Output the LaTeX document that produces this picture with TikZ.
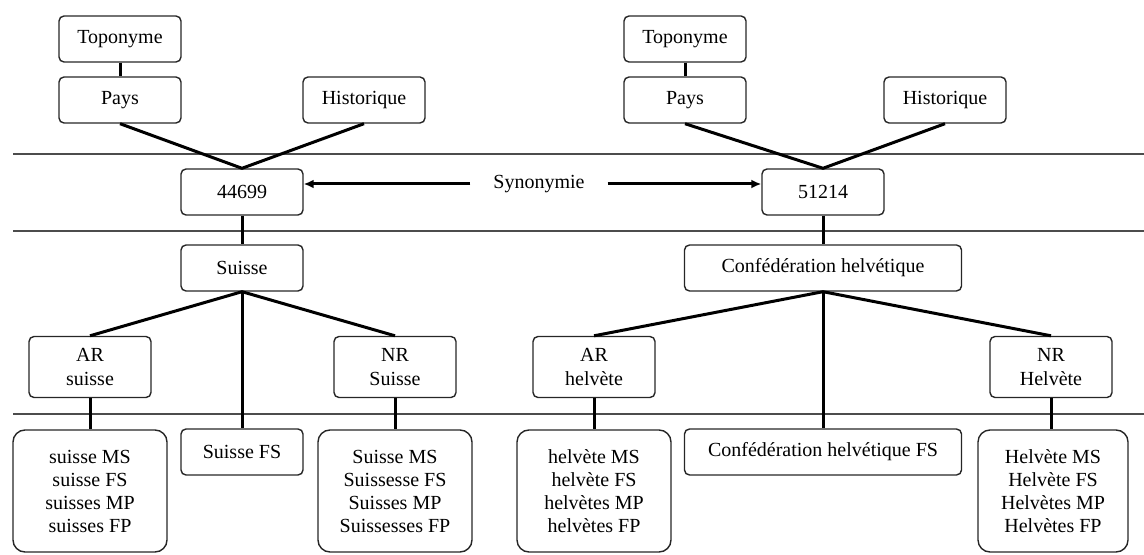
\documentclass[tikz,border=0pt]{standalone}
\usepackage{fontspec}
\setmainfont{Liberation Serif}
\usetikzlibrary{arrows.meta}

\begin{document}
\begin{tikzpicture}[x=0.5pt,y=-0.5pt]
        \tikzset{box/.style={draw=black!85,rounded corners=2.5pt,line width=0.7pt,
                minimum width=61pt,minimum height=23pt,inner sep=2pt,align=center,
                font=\fontsize{10}{12}\selectfont},
            pair/.style={box,minimum height=30.5pt},
            wide/.style={box,minimum width=138.5pt},
            forms/.style={box,minimum width=77pt,minimum height=61pt,rounded corners=6pt,
                font=\fontsize{10}{11.5}\selectfont},
            link/.style={draw,line width=1.5pt},
            sep/.style={draw=black!70,line width=0.7pt},
            syn/.style={draw,line width=1.5pt,shorten <=8pt,-{Latex[length=5pt,width=4.5pt]}}}
        \useasboundingbox (0,0) rectangle (1144,555);
        \draw[sep] (13,154) -- (1144,154);
        \draw[sep] (13,231) -- (1144,231);
        \draw[sep] (13,414) -- (1144,414);

        \node[box] (topoL) at (120,39) {Toponyme};
        \node[box] (paysL) at (120,100) {Pays};
        \node[box] (histL) at (364,100) {Historique};
        \node[box] (idL) at (242,192) {44699};
        \node[box] (suisse) at (242,268) {Suisse};
        \node[pair] (arL) at (90,367) {AR\\suisse};
        \node[pair] (nrL) at (395,367) {NR\\Suisse};
        \node[forms] (formsArL) at (90,491) {suisse MS\\suisse FS\\suisses MP\\suisses FP};
        \node[box] (suisseFS) at (242,452) {Suisse FS};
        \node[forms] (formsNrL) at (395,491) {Suisse MS\\Suissesse FS\\Suisses MP\\Suissesses FP};

        \node[box] (topoR) at (685,39) {Toponyme};
        \node[box] (paysR) at (685,100) {Pays};
        \node[box] (histR) at (945,100) {Historique};
        \node[box] (idR) at (823,192) {51214};
        \node[wide] (conf) at (823,268) {Confédération helvétique};
        \node[pair] (arR) at (594,367) {AR\\helvète};
        \node[pair] (nrR) at (1051,367) {NR\\Helvète};
        \node[forms] (formsArR) at (594,491) {helvète MS\\helvète FS\\helvètes MP\\helvètes FP};
        \node[wide] (confFS) at (823,452) {Confédération helvétique FS};
        \node[forms,minimum width=75pt] (formsNrR) at (1053,491) {Helvète MS\\Helvète FS\\Helvètes MP\\Helvètes FP};

        \node (synonymie) at (539,184) {Synonymie};

        \draw[link] (topoL) -- (paysL);
        \draw[link] (paysL.south) -- (idL.north) -- (histL.south);
        \draw[link] (idL) -- (suisse);
        \draw[link] (arL.north) -- (suisse.south) -- (nrL.north);
        \draw[link] (suisse) -- (suisseFS);
        \draw[link] (arL) -- (formsArL);
        \draw[link] (nrL) -- (formsNrL);

        \draw[link] (topoR) -- (paysR);
        \draw[link] (paysR.south) -- (idR.north) -- (histR.south);
        \draw[link] (idR) -- (conf);
        \draw[link] (arR.north) -- (conf.south) -- (nrR.north);
        \draw[link] (conf) -- (confFS);
        \draw[link] (arR) -- (formsArR);
        \draw[link] (nrR.south) -- (formsNrR.north -| nrR.south);

        \draw[syn] (synonymie.west) -- (synonymie.west -| idL.east);
        \draw[syn] (synonymie.east) -- (synonymie.east -| idR.west);
\end{tikzpicture}
\end{document}
